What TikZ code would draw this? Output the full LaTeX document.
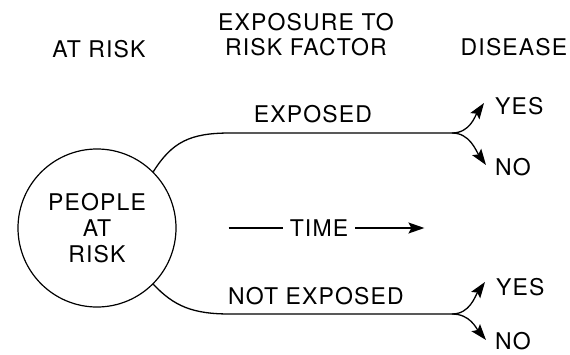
\documentclass[tikz,border=0pt]{standalone}
\usepackage{fontspec}
\setmainfont[LetterSpace=5]{TeX Gyre Heros}
\usetikzlibrary{arrows.meta}
\tikzset{
  lbl/.style={inner sep=2pt, font=\fontsize{23}{25}\selectfont},
  headtip/.style={-{Stealth[length=16pt,width=11pt,inset=3pt]}},
  branch/.style={line width=1.3pt, headtip},
  trunk/.style={line width=1.3pt}
}
\begin{document}
\begin{tikzpicture}[x=1pt,y=-1pt]
\useasboundingbox (0,0) rectangle (570,354);
% headings
\node[lbl] (atrisk) at (99,49) {AT RISK};
\node[lbl,align=center] (factor) at (306,35) {EXPOSURE TO\\RISK FACTOR};
\node[lbl] (disease) at (514,47) {DISEASE};
% people at risk
\node[lbl,draw,circle,line width=1.2pt,minimum size=158pt,align=center,
  font=\fontsize{23}{26}\selectfont] (people) at (97,228) {PEOPLE\\AT\\RISK};
\coordinate (upsplit) at (452,133);
\coordinate (lowsplit) at (452,314);
\draw[trunk] (people.45) .. controls (172,142) and (190,133) .. (230,133) -- (upsplit);
\draw[trunk] (people.-45) .. controls (174,306) and (192,314) .. (230,314) -- (lowsplit);
\node[lbl] (exposed) at (313,114) {EXPOSED};
\node[lbl] (notexposed) at (316,296) {NOT EXPOSED};
% outcomes
\node[lbl,anchor=west] (yesup) at (493,106) {YES};
\node[lbl,anchor=west] (noup) at (493,167) {NO};
\node[lbl,anchor=west] (yeslow) at (494,287) {YES};
\node[lbl,anchor=west] (nolow) at (493,341) {NO};
\coordinate (yesuptip) at (484,103);
\coordinate (nouptip) at (486,165);
\coordinate (yeslowtip) at (485,282);
\coordinate (nolowtip) at (486,340);
\draw[branch] (upsplit) .. controls (470,133) and (475,116) .. (yesuptip);
\draw[branch] (upsplit) .. controls (470,133) and (476,151) .. (nouptip);
\draw[branch] (lowsplit) .. controls (470,314) and (475,296) .. (yeslowtip);
\draw[branch] (lowsplit) .. controls (470,314) and (476,328) .. (nolowtip);
% time
\node[lbl,inner sep=7pt] (time) at (319,228) {TIME};
\draw[trunk] ([xshift=-54pt]time.west) -- (time.west);
\draw[trunk,headtip] (time.east) -- ++(69,0);
\end{tikzpicture}
\end{document}
